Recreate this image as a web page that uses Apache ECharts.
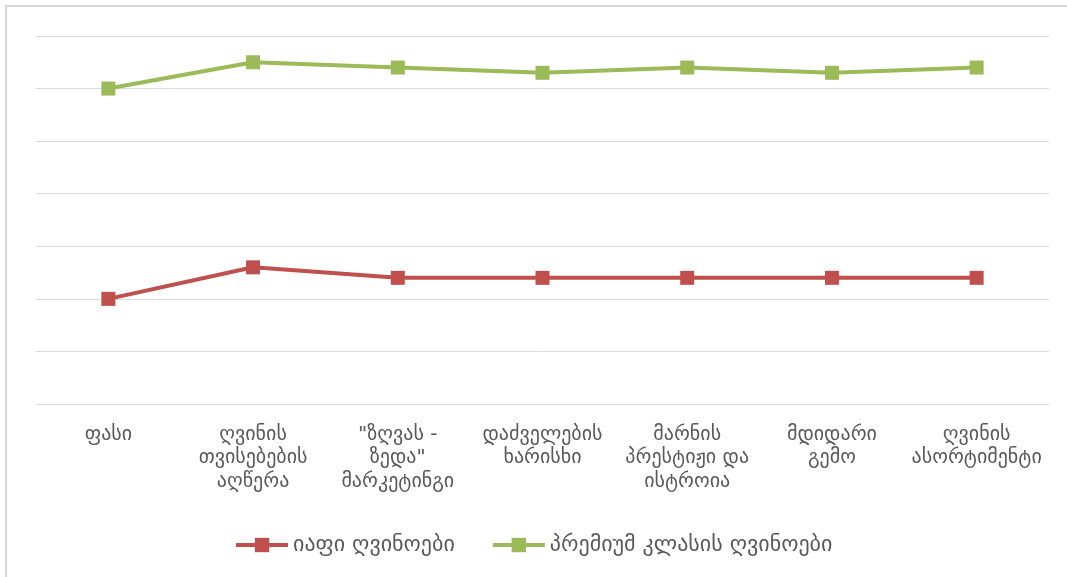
<!DOCTYPE html>
<html>
<head>
<meta charset="utf-8">
<script src="https://cdn.jsdelivr.net/npm/echarts@6/dist/echarts.min.js"></script>
<style>
html,body{margin:0;padding:0;background:#fff;}
#frame{position:absolute;left:5px;top:5px;width:1100px;height:600px;border-left:2px solid #d9d9d9;border-top:2px solid #d9d9d9;}
#chart{position:absolute;left:0;top:0;width:1067px;height:577px;}
</style>
</head>
<body>
<div id="frame"></div>
<div id="chart"></div>
<script>
var categories = [
  "ფასი",
  "ღვინის\nთვისებების\nაღწერა",
  "\"ზღვას -\nზედა\"\nმარკეტინგი",
  "დაძველების\nხარისხი",
  "მარნის\nპრესტიჟი და\nისტროია",
  "მდიდარი\nგემო",
  "ღვინის\nასორტიმენტი"
];
var seriesNames = ["იაფი ღვინოები", "პრემიუმ კლასის ღვინოები"];
var cheapWines = [2.0, 2.6, 2.4, 2.4, 2.4, 2.4, 2.4];
var premiumWines = [6.0, 6.5, 6.4, 6.3, 6.4, 6.3, 6.4];
var yMin = 0, yMax = 7, yStep = 1;

var font = "'DejaVu Sans', 'Noto Sans', sans-serif";
var chart = echarts.init(document.getElementById('chart'), null, {renderer: 'canvas'});
function lineSeries(name, data, color) {
  return {
    name: name,
    type: 'line',
    data: data,
    symbol: 'rect',
    symbolSize: 14,
    lineStyle: {color: color, width: 4},
    itemStyle: {color: color},
    animation: false
  };
}
chart.setOption({
  animation: false,
  textStyle: {fontFamily: font},
  grid: {left: 36, right: 18, top: 36, bottom: 173},
  legend: {
    data: seriesNames,
    top: 534,
    left: 234,
    padding: 0,
    itemWidth: 52,
    itemHeight: 18,
    itemGap: 36,
    lineStyle: {width: 4},
    textStyle: {color: '#595959', fontSize: 22, fontFamily: font}
  },
  xAxis: {
    type: 'category',
    data: categories,
    boundaryGap: true,
    axisLine: {lineStyle: {color: '#d9d9d9', width: 1}},
    axisTick: {show: false},
    axisLabel: {color: '#595959', fontSize: 20, lineHeight: 23.5, margin: 19, interval: 0, fontFamily: font}
  },
  yAxis: {
    type: 'value',
    min: yMin, max: yMax, interval: yStep,
    axisLine: {show: false},
    axisTick: {show: false},
    axisLabel: {show: false},
    splitLine: {lineStyle: {color: '#d9d9d9', width: 1}}
  },
  series: [
    lineSeries(seriesNames[0], cheapWines, '#C0504D'),
    lineSeries(seriesNames[1], premiumWines, '#9BBB59')
  ]
});
</script>
</body>
</html>
